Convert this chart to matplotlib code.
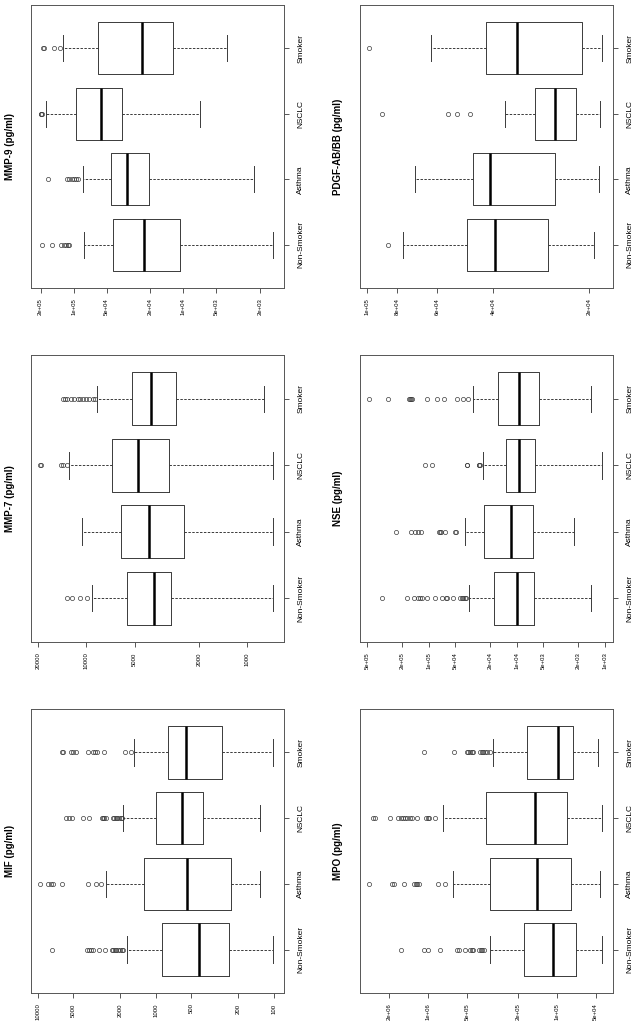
import matplotlib
matplotlib.use("Agg")
import matplotlib.pyplot as plt
from matplotlib.ticker import FixedLocator, FixedFormatter, NullLocator

plt.rcParams['font.family'] = ['Liberation Sans', 'DejaVu Sans']

groups = ["Non-Smoker", "Asthma", "NSCLC", "Smoker"]

# MIF (pg/ml)
mif_low = [101, 130, 130, 101]
mif_q1 = [240, 231, 396, 274]
mif_med = [429, 538, 593, 556]
mif_q3 = [881, 1250, 1000, 794]
mif_high = [1740, 2660, 1880, 1520]
mif_out = [
    [7510, 3850, 3680, 3540, 3380, 3010, 2690, 2360, 2290, 2220, 2160, 2080, 2010, 1920, 1880],
    [9560, 8120, 7760, 7370, 6180, 3770, 3210, 2930],
    [5790, 5430, 5160, 4110, 3680, 2870, 2790, 2720, 2640, 2320, 2250, 2180, 2110, 2050, 1980, 1930],
    [6270, 6080, 5260, 5060, 4740, 3730, 3410, 3270, 3170, 2730, 1820, 1630],
]
mif_ticks = [10000, 5000, 2000, 1000, 500, 200, 100]
mif_labels = ["10000", "5000", "2000", "1000", "500", "200", "100"]

# MMP-7 (pg/ml)
mmp7_low = [694, 694, 694, 793]
mmp7_q1 = [2980, 2470, 3070, 2790]
mmp7_med = [3790, 4080, 4800, 3970]
mmp7_q3 = [5620, 6090, 6960, 5180]
mmp7_high = [9250, 10600, 12700, 8620]
mmp7_out = [
    [13200, 12300, 10900, 9850],
    [],
    [19300, 19100, 14400, 13900, 13200],
    [13900, 13600, 13200, 12500, 11900, 11300, 10900, 10500, 10000, 9570, 9120, 8830],
]
mmp7_ticks = [20000, 10000, 5000, 2000, 1000]
mmp7_labels = ["20000", "10000", "5000", "2000", "1000"]

# MMP-9 (pg/ml)
mmp9_low = [1510, 2250, 7040, 3970]
mmp9_q1 = [10600, 20700, 35800, 12300]
mmp9_med = [22700, 32700, 56800, 23800]
mmp9_q3 = [43500, 46000, 95200, 59600]
mmp9_high = [80600, 81700, 179000, 126000]
mmp9_out = [
    [193000, 159000, 131000, 122000, 117000, 113000, 110000],
    [170000, 116000, 110000, 104000, 99000, 95000, 91000],
    [200000, 197000, 194000],
    [192000, 187000, 150000, 133000],
]
mmp9_ticks = [2e5, 1e5, 5e4, 2e4, 1e4, 5e3, 2e3]
mmp9_labels = ["2e+05", "1e+05", "5e+04", "2e+04", "1e+04", "5e+03", "2e+03"]

# MPO (pg/ml)
mpo_low = [44300, 46600, 44300, 48000]
mpo_q1 = [71400, 78100, 83300, 74900]
mpo_med = [107000, 143000, 149000, 98000]
mpo_q3 = [181000, 328000, 356000, 172000]
mpo_high = [332000, 638000, 763000, 313000]
mpo_out = [
    [1620000, 1080000, 1000000, 809000, 601000, 572000, 518000, 474000, 460000, 447000,
     403000, 390000, 381000, 369000],
    [2860000, 1910000, 1850000, 1540000, 1280000, 1240000, 1210000, 1170000, 834000, 740000],
    [2660000, 2600000, 1980000, 1700000, 1620000, 1560000, 1510000, 1470000, 1380000,
     1340000, 1230000, 1040000, 1010000, 983000, 885000],
    [1070000, 631000, 503000, 489000, 474000, 460000, 447000, 396000, 384000, 373000,
     362000, 352000, 328000],
]
mpo_ticks = [2e6, 1e6, 5e5, 2e5, 1e5, 5e4]
mpo_labels = ["2e+06", "1e+06", "5e+05", "2e+05", "1e+05", "5e+04"]

# NSE (pg/ml)
nse_low = [1420, 2250, 1060, 1420]
nse_q1 = [6350, 6520, 6130, 5620]
nse_med = [9820, 11500, 9400, 9400]
nse_q3 = [18100, 23500, 13400, 16300]
nse_high = [35000, 38900, 24100, 31800]
nse_out = [
    [338000, 179000, 146000, 132000, 125000, 119000, 106000, 85300, 71600, 64000, 61700,
     52800, 44300, 42500, 40700, 39000, 37300],
    [236000, 160000, 144000, 132000, 124000, 76800, 74800, 72900, 65600, 50600, 49300],
    [111000, 91400, 37200, 36500, 27200, 26700, 26200],
    [474000, 294000, 168000, 164000, 160000, 154000, 104000, 81600, 66800, 47500, 41300, 35600],
]
nse_ticks = [5e5, 2e5, 1e5, 5e4, 2e4, 1e4, 5e3, 2e3, 1e3]
nse_labels = ["5e+05", "2e+05", "1e+05", "5e+04", "2e+04", "1e+04", "5e+03", "2e+03", "1e+03"]

# PDGF-AB/BB (pg/ml)
pdgf_low = [19300, 18600, 18400, 18200]
pdgf_q1 = [26900, 25500, 22000, 21100]
pdgf_med = [39500, 41000, 25500, 33600]
pdgf_q3 = [48200, 46300, 29500, 42000]
pdgf_high = [76700, 70200, 36700, 62800]
pdgf_out = [[85500], [], [89300, 55300, 51800, 47400], [98100]]
pdgf_ticks = [1e5, 8e4, 6e4, 4e4, 2e4]
pdgf_labels = ["1e+05", "8e+04", "6e+04", "4e+04", "2e+04"]

W, H = 641, 1032
fig = plt.figure(figsize=(W / 100, H / 100), dpi=100)

line = "#3a3a3a"


def panel(rect, title, title_x, low, q1, med, q3, high, out, ticks, labels, xlim):
    x0, y0, x1, y1 = rect
    ax = fig.add_axes([x0 / W, 1 - y1 / H, (x1 - x0) / W, (y1 - y0) / H])
    stats = []
    for i in range(4):
        stats.append(dict(whislo=low[i], q1=q1[i], med=med[i], q3=q3[i],
                          whishi=high[i], fliers=out[i]))
    ax.bxp(stats, positions=[1, 2, 3, 4], widths=0.8, capwidths=0.4,
           orientation="horizontal",
           boxprops=dict(color=line, linewidth=0.7),
           medianprops=dict(color="black", linewidth=1.8, solid_capstyle="butt"),
           whiskerprops=dict(color=line, linewidth=0.7, linestyle=(0, (2.5, 1.5))),
           capprops=dict(color=line, linewidth=0.7),
           flierprops=dict(marker="o", markerfacecolor="none", markeredgecolor=line,
                           markersize=3, markeredgewidth=0.5))
    ax.set_xscale("log")
    ax.set_xlim(*xlim)
    ax.set_ylim(0.34, 4.66)
    ax.xaxis.set_major_locator(FixedLocator(ticks))
    ax.xaxis.set_major_formatter(FixedFormatter(labels))
    ax.xaxis.set_minor_locator(NullLocator())
    ax.tick_params(axis="x", labelsize=4.3, rotation=90, length=3.5, width=0.6,
                   color=line, pad=4)
    ax.yaxis.tick_right()
    ax.set_yticks([1, 2, 3, 4])
    ax.set_yticklabels(groups, rotation=90, va="center")
    ax.tick_params(axis="y", labelsize=6, length=3.5, width=0.6, color=line, pad=6)
    for s in ax.spines.values():
        s.set_color("#555555")
        s.set_linewidth(0.7)
    fig.text(title_x / W, 1 - (y0 + y1) / 2 / H, title, rotation=90,
             fontsize=7, fontweight="bold", ha="center", va="center")


panel((31, 5, 284, 288), "MMP-9 (pg/ml)", 10, mmp9_low, mmp9_q1, mmp9_med, mmp9_q3,
      mmp9_high, mmp9_out, mmp9_ticks, mmp9_labels, (2.45e5, 1.2e3))
panel((360, 5, 613, 288), "PDGF-AB/BB (pg/ml)", 338, pdgf_low, pdgf_q1, pdgf_med, pdgf_q3,
      pdgf_high, pdgf_out, pdgf_ticks, pdgf_labels, (1.049e5, 1.68e4))
panel((31, 355, 284, 642), "MMP-7 (pg/ml)", 10, mmp7_low, mmp7_q1, mmp7_med, mmp7_q3,
      mmp7_high, mmp7_out, mmp7_ticks, mmp7_labels, (2.2e4, 593))
panel((360, 355, 613, 642), "NSE (pg/ml)", 338, nse_low, nse_q1, nse_med, nse_q3,
      nse_high, nse_out, nse_ticks, nse_labels, (6.06e5, 805))
panel((31, 709, 284, 993), "MIF (pg/ml)", 10, mif_low, mif_q1, mif_med, mif_q3,
      mif_high, mif_out, mif_ticks, mif_labels, (1.14e4, 81.8))
panel((360, 709, 613, 993), "MPO (pg/ml)", 338, mpo_low, mpo_q1, mpo_med, mpo_q3,
      mpo_high, mpo_out, mpo_ticks, mpo_labels, (3.38e6, 3.67e4))

fig.savefig("out.png", dpi=100)
